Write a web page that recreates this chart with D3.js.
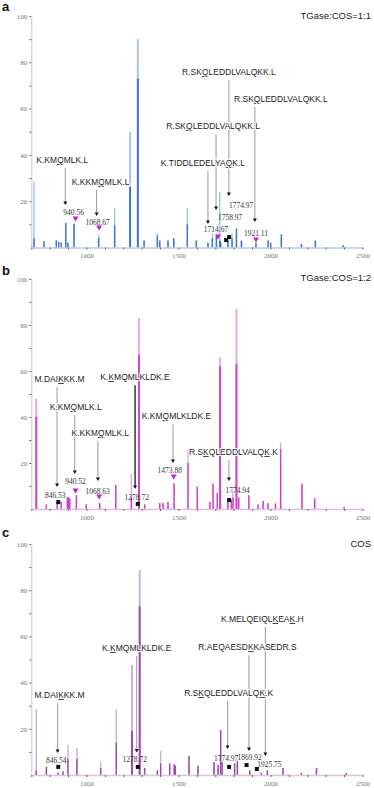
<!DOCTYPE html>
<html>
<head>
<meta charset="utf-8">
<script src="https://cdn.jsdelivr.net/npm/d3@7"></script>
<style>
  body { margin: 0; background: #fff; }
</style>
</head>
<body>
<div id="chart"></div>
<script>
// peaks: [m/z, total intensity (%), core intensity (%)]
var peaksA = [
  [715, 28.5, 4], [769, 2.7, 2.7], [836, 3.3, 3], [849, 2.5, 2.5], [863, 2, 2],
  [887, 10.6, 10.6], [899, 2, 2], [932, 10.3, 10.3], [1066, 5.6, 4], [1153, 17, 9.5],
  [1237, 50, 26], [1279, 90, 73], [1313, 3, 3], [1385, 6.3, 5], [1398, 3, 3],
  [1443, 3, 3], [1474, 4, 4], [1548, 17, 10], [1597, 3, 3], [1660, 2, 2],
  [1684, 6, 4], [1706, 6, 5], [1724, 24, 3], [1729, 2.5, 2.5], [1769, 3, 3],
  [1791, 6, 4], [1815, 8.2, 8.2], [1842, 3, 3], [1921, 2, 2], [1987, 3, 3],
  [2001, 2, 2], [2059, 5.6, 5.6], [2168, 1.5, 1.5], [2244, 3, 3], [2394, 1, 1]
];

var peaksB = [
  [727, 48, 40], [782, 2, 2], [841, 3, 3], [863, 3, 3], [896, 5.3, 5],
  [903, 5, 5], [909, 4.5, 4.5], [945, 6, 6], [999, 2, 2], [1072, 2.6, 2.6],
  [1159, 10.4, 10.4], [1244, 15.2, 5], [1285, 83, 67], [1316, 2, 2], [1398, 2.6, 2.6],
  [1416, 2.6, 2.6], [1443, 3, 3], [1476, 11.2, 11.2], [1552, 26, 20], [1602, 9.7, 9.7],
  [1670, 3, 3], [1688, 11, 11], [1711, 7, 7], [1726, 66, 62], [1769, 3, 3],
  [1787, 4, 4], [1796, 8, 5], [1815, 87, 63], [1827, 5, 5], [1882, 6, 6],
  [1932, 2, 2], [1960, 3.5, 3.5], [1987, 2.5, 2.5], [2027, 2.4, 2.4], [2055, 29, 26],
  [2171, 11, 11], [2240, 4.6, 4.6], [2400, 1, 1]
];

var peaksC = [
  [727, 28.4, 2], [782, 3.5, 3.5], [845, 1, 1], [872, 1.5, 1.5], [899, 13, 7],
  [948, 11.7, 7], [1077, 6, 3], [1162, 28.4, 14], [1247, 47.6, 19], [1289, 88.7, 73],
  [1316, 3, 3], [1385, 2, 2], [1403, 10.5, 5], [1452, 5, 5], [1477, 4.5, 4.5],
  [1483, 4, 4], [1557, 8.2, 8.2], [1606, 4, 4], [1693, 5.6, 5.6], [1715, 4.3, 4.3],
  [1729, 19.5, 19.5], [1737, 5.6, 5.6], [1805, 5, 5], [1820, 6, 6], [1887, 2, 2],
  [1950, 1, 1], [1983, 2, 2], [2068, 3, 3], [2168, 1, 1], [2250, 3, 3], [2412, 0.8, 0.8]
];

var yTicks = [20, 40, 60, 80, 100];
var xTicks = [1000, 1500, 2000, 2500];

// annotations: [peptide ([x] = underlined residue), assigned mass, m/z of pointer line, marker]
var notesA = [
  ["K.KM[Q]MLK.L", "940.56", 885, "tri"],
  ["K.KKM[Q]MLK.L", "1068.67", 1055, "tri"],
  ["K.TIDDLEDELYA[Q]K.L", "1714.67", 1660, "tri"],
  ["R.SK[Q]LEDDLVALQKK.L", "1758.97", 1704, "sq"],
  ["R.SK[Q]LEDDLVALQKK.L", "1774.97", 1774, "sq"],
  ["R.SK[Q]LEDDLVALQKK.L", "1921.11", 1915, "tri"]
];
var notesB = [
  ["M.DAI[K]KK.M", "846.53", 840, "sq"],
  ["K.KM[Q]MLK.L", "940.52", 936, "tri"],
  ["K.KKM[Q]MLK.L", "1068.63", 1062, "tri"],
  ["K.[K]MQMLKLDK.E", "1278.72", 1264, "sq"],
  ["K.KM[Q]MLKLDK.E", "1473.88", 1470, "tri"],
  ["R.S[K]QLEDDLVALQ[K].K", "1774.94", 1774, "sq"]
];
var notesC = [
  ["M.DAI[K]KK.M", "846.54", 843, "sq"],
  ["K.[K]MQMLKLDK.E", "1278.72", 1273, "sq"],
  ["R.S[K]QLEDDLVALQ[K].K", "1774.97", 1767, "sq"],
  ["R.AEQAESD[K]KASEDR.S", "1869.92", 1883, "sq"],
  ["K.MELQEIQL[K]EA[K].H", "1925.75", 1972, "sq"]
];

// where each annotation sits, in intensity units:
// [label baseline, arrow tip, mass text baseline, marker, label dx px, mass dx px]
var layoutA = [
  [36.5, 18.4, 14, 12.3, -3, -2],
  [27, 13.6, 9.7, 8.4, 4, -1.5],
  [35.2, 10.2, 6.7, 4.5, -5, -2],
  [51.2, 16.2, 11.9, 3.2, -3, 4],
  [74.5, 22.2, 17, 4.5, 0, 12],
  [62.9, 11, 5, 3.2, 26, 0]
];
var layoutB = [
  [55.2, 9.6, 4.8, 3, 2.5, -3],
  [43, 15.2, 10.9, 7.8, 1, 0],
  [31.7, 12.2, 6.5, 5.2, 2.5, -1.5],
  [56, 8.7, 3.9, 2.2, 0, -1],
  [39, 20, 15.7, 13.9, 3.5, -4],
  [23.5, 12.2, 7, 3.9, 4.5, 8.5]
];
var layoutC = [
  [33.3, 9.5, 5.2, 3.5, 2, -2],
  [53.7, 9.7, 5.6, 3.5, 0, -3],
  [34.2, 11.3, 6.1, 3.5, 1, -3],
  [54, 10.4, 6.6, 4.3, -1.5, 3],
  [66.2, 8.2, 3.6, 2.6, -3, 12.5]
];

var panels = [
  { letter: "a", title: "TGase:COS=1:1", peaks: peaksA, notes: notesA, layout: layoutA,
    y0: 247.5, y100: 16, letterY: 11, titleY: 19,
    light: "#a6c1e2", dark: "#3a73d2", axis: "#b9c9e2", heavy: -1 },
  { letter: "b", title: "TGase:COS=1:2", peaks: peaksB, notes: notesB, layout: layoutB,
    y0: 509, y100: 279, letterY: 275, titleY: 281,
    light: "#e2a6e2", dark: "#d03ed0", axis: "#e4b9e4", heavy: 3 },
  { letter: "c", title: "COS", peaks: peaksC, notes: notesC, layout: layoutC,
    y0: 775, y100: 544, letterY: 537, titleY: 547,
    light: "#cbb0cf", dark: "#9d48aa", axis: "#dcc2dc", heavy: -1 }
];

var svg = d3.select("#chart")
  .append("svg")
  .attr("width", 374)
  .attr("height", 788);

var x = d3.scaleLinear().domain([700, 2500]).range([31.3, 362.5]);

// split "K.KM[Q]MLK.L" into plain / underlined pieces
function addSequence(textSel, seq) {
  seq.split(/(\[[A-Z]\])/).forEach(function(part) {
    if (!part) return;
    var under = part.charAt(0) === "[";
    textSel.append("tspan")
      .text(under ? part.slice(1, -1) : part)
      .style("text-decoration", under ? "underline" : null);
  });
}

// the big peaks are drawn a little wider
function peakWidth(d) {
  return d[1] > 40 ? 1.9 : 1.4;
}

panels.forEach(function(p) {
  var y = d3.scaleLinear().domain([0, 100]).range([p.y0, p.y100]);
  var g = svg.append("g");

  // y axis
  var yAxis = g.append("g")
    .attr("transform", `translate(${x(700)},0)`)
    .call(d3.axisLeft(y)
      .tickValues(d3.range(10, 101, 10))
      .tickSize(2).tickSizeOuter(0).tickPadding(2)
      .tickFormat(d => yTicks.indexOf(d) >= 0 ? d : ""))
    .attr("font-family", "Liberation Serif, serif")
    .attr("font-size", 7);
  yAxis.select(".domain").attr("stroke", "#c6c6c6");
  yAxis.selectAll(".tick line").attr("stroke", "#666");
  yAxis.selectAll("text").attr("fill", "#777");

  // peaks: light full height, saturated core
  g.append("g").selectAll("line")
    .data(p.peaks)
    .enter()
    .append("line")
    .attr("x1", d => x(d[0])).attr("x2", d => x(d[0]))
    .attr("y1", y(0)).attr("y2", d => y(d[1]))
    .attr("stroke", p.light)
    .attr("stroke-width", peakWidth);

  g.append("g").selectAll("line")
    .data(p.peaks)
    .enter()
    .append("line")
    .attr("x1", d => x(d[0])).attr("x2", d => x(d[0]))
    .attr("y1", y(0)).attr("y2", d => y(d[2]))
    .attr("stroke", p.dark)
    .attr("stroke-width", peakWidth);

  // x axis
  var xAxis = g.append("g")
    .attr("transform", `translate(0,${y(0)})`)
    .call(d3.axisBottom(x)
      .tickValues(d3.range(700, 2501, 100))
      .tickSize(2).tickSizeOuter(0).tickPadding(4)
      .tickFormat(d => xTicks.indexOf(d) >= 0 ? d : ""))
    .attr("font-family", "Liberation Serif, serif")
    .attr("font-size", 7);
  xAxis.select(".domain").attr("stroke", p.axis).attr("stroke-width", 1.3);
  xAxis.selectAll(".tick line").attr("stroke", "#666");
  xAxis.selectAll("text").attr("fill", "#777");

  // panel letter and condition
  g.append("text")
    .attr("x", 2).attr("y", p.letterY)
    .attr("font-family", "Liberation Sans, Arial, sans-serif")
    .attr("font-weight", "bold")
    .attr("font-size", 13)
    .attr("fill", "#111")
    .text(p.letter);

  g.append("text")
    .attr("x", 371).attr("y", p.titleY)
    .attr("text-anchor", "end")
    .attr("font-family", "Liberation Sans, Arial, sans-serif")
    .attr("font-size", 9.5)
    .attr("fill", "#222")
    .text(p.title);

  // annotation pointer lines
  p.notes.forEach(function(n, i) {
    var L = p.layout[i];
    var lx = x(n[2]);
    g.append("line")
      .attr("x1", lx).attr("x2", lx)
      .attr("y1", y(L[0]) + 5).attr("y2", y(L[1]) - 2)
      .attr("stroke", i === p.heavy ? "#555" : "#9a9a9a")
      .attr("stroke-width", i === p.heavy ? 1.8 : 1);
    g.append("path")
      .attr("d", `M${lx - 2},${y(L[1]) - 3.5}L${lx + 2},${y(L[1]) - 3.5}L${lx},${y(L[1])}Z`)
      .attr("fill", "#111");
  });

  // peptide labels, with a white halo so the pointer lines break behind them
  p.notes.forEach(function(n, i) {
    var L = p.layout[i];
    var t = g.append("text")
      .attr("x", x(n[2]) + L[4]).attr("y", y(L[0]))
      .attr("text-anchor", "middle")
      .attr("font-family", "Liberation Sans, Arial, sans-serif")
      .attr("font-size", 8.5)
      .attr("fill", "#222")
      .attr("stroke", "#fff").attr("stroke-width", 2)
      .attr("paint-order", "stroke");
    addSequence(t, n[0]);
  });

  // masses and markers
  p.notes.forEach(function(n, i) {
    var L = p.layout[i];
    var mx = x(+n[1]);
    g.append("text")
      .attr("x", mx + L[5]).attr("y", y(L[2]))
      .attr("text-anchor", "middle")
      .attr("font-family", "Liberation Serif, serif")
      .attr("font-size", 7.5)
      .attr("fill", "#333")
      .text(n[1]);
    var my = y(L[3]);
    if (n[3] === "tri") {
      g.append("path")
        .attr("d", `M${mx - 3},${my - 2.5}L${mx + 3},${my - 2.5}L${mx},${my + 2.5}Z`)
        .attr("fill", "#c81fc8");
    } else {
      g.append("rect")
        .attr("x", mx - 2).attr("y", my - 2)
        .attr("width", 4).attr("height", 4)
        .attr("fill", "#111");
    }
  });
});
</script>
</body>
</html>
